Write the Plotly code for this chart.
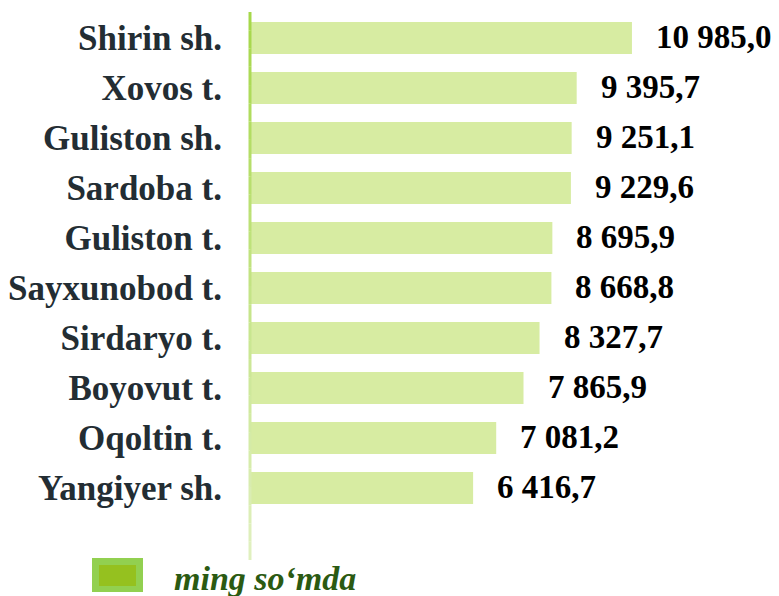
import plotly.graph_objects as go

categories = ["Shirin sh.", "Xovos t.", "Guliston sh.", "Sardoba t.", "Guliston t.",
              "Sayxunobod t.", "Sirdaryo t.", "Boyovut t.", "Oqoltin t.", "Yangiyer sh."]
values = [10985.0, 9395.7, 9251.1, 9229.6, 8695.9, 8668.8, 8327.7, 7865.9, 7081.2, 6416.7]
legend_label = "ming so\u2018mda"


def fmt(v):
    s = f"{v:,.1f}"
    return s.replace(",", " ").replace(".", ",")


OFF = 8  # page body margin
W, H = 779 - OFF, 596 - OFF
ML, MR, MT, MB = 250 - OFF, 0, 12 - OFF, 596 - 560
pw, ph = W - ML - MR, H - MT - MB

fig = go.Figure()
fig.add_trace(go.Bar(
    x=values, y=categories, orientation="h",
    marker=dict(color="#d7eca2", line=dict(width=0)),
    width=0.64, showlegend=False, hoverinfo="x+y",
))

for c, v in zip(categories, values):
    fig.add_annotation(x=v, y=c, text=fmt(v), showarrow=False, xanchor="left",
                       yanchor="middle", xshift=22, yshift=1,
                       font=dict(family="Liberation Serif", size=33, color="#000000", weight="bold"))

# gradient axis line
n = 30
for i in range(n):
    t = i / n
    top = (166, 216, 74)
    bot = (226, 241, 196)
    col = tuple(int(top[k] + (bot[k] - top[k]) * t) for k in range(3))
    fig.add_shape(type="line", xref="paper", yref="paper", x0=0, x1=0,
                  y0=1 - t, y1=1 - (i + 1) / n,
                  line=dict(color=f"rgb{col}", width=3), layer="above")

# legend (reference pixel coords converted to paper coords)
px = lambda x: (x - 250) / pw
py = lambda y: (560 - y) / ph
fig.add_shape(type="rect", xref="paper", yref="paper", x0=px(92), x1=px(143), y0=py(592), y1=py(558),
              fillcolor="#92d050", line=dict(width=0))
fig.add_shape(type="rect", xref="paper", yref="paper", x0=px(99), x1=px(136), y0=py(586), y1=py(565),
              fillcolor="#95c11f", line=dict(width=0))
fig.add_annotation(xref="paper", yref="paper", x=px(172), y=py(578), text=legend_label,
                   showarrow=False, xanchor="left", yanchor="middle",
                   font=dict(family="Liberation Serif", size=34, color="#2b5a12", style="italic", weight="bold"))

fig.update_layout(
    width=W, height=H, margin=dict(l=ML, r=MR, t=MT, b=MB),
    paper_bgcolor="white", plot_bgcolor="white",
    xaxis=dict(range=[0, pw / 0.03477], visible=False, showgrid=False, zeroline=False),
    yaxis=dict(categoryorder="array", categoryarray=categories, range=[10.44, -0.52],
               showgrid=False, zeroline=False, showline=False, ticks="",
               ticklabelstandoff=27,
               tickfont=dict(family="Liberation Serif", size=35, color="#232d33", weight="bold")),
)

fig.write_html("out.html")
